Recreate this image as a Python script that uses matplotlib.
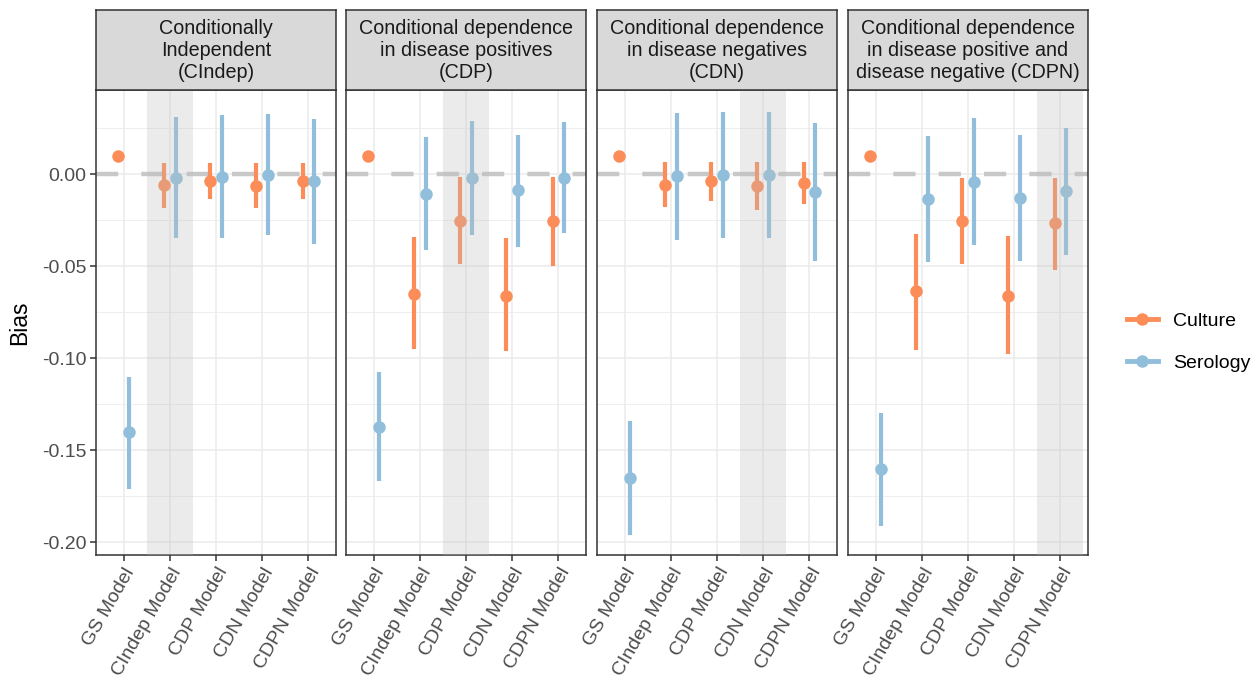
import numpy as np
import matplotlib
matplotlib.use("Agg")
import matplotlib.pyplot as plt
from matplotlib.lines import Line2D

plt.rcParams['font.family'] = ['Liberation Sans', 'DejaVu Sans']

# ---- data ----
models = ["GS Model", "CIndep Model", "CDP Model", "CDN Model", "CDPN Model"]
panel_titles = [
    "Conditionally\nIndependent\n(CIndep)",
    "Conditional dependence\nin disease positives\n(CDP)",
    "Conditional dependence\nin disease negatives\n(CDN)",
    "Conditional dependence\nin disease positive and\ndisease negative (CDPN)",
]
shaded_model = [1, 2, 3, 4]  # index of the highlighted model in each panel

# Culture: estimate, lower, upper  (GS model has no interval)
culture_est = [
    [0.010, -0.006, -0.004, -0.0065, -0.004],
    [0.010, -0.065, -0.0256, -0.066, -0.0256],
    [0.010, -0.006, -0.0036, -0.0065, -0.0047],
    [0.010, -0.0636, -0.0256, -0.066, -0.0268],
]
culture_lo = [
    [np.nan, -0.0185, -0.0136, -0.0183, -0.0136],
    [np.nan, -0.095, -0.049, -0.096, -0.050],
    [np.nan, -0.018, -0.0145, -0.0196, -0.016],
    [np.nan, -0.0957, -0.049, -0.098, -0.052],
]
culture_hi = [
    [np.nan, 0.006, 0.006, 0.006, 0.006],
    [np.nan, -0.034, -0.0015, -0.035, -0.0015],
    [np.nan, 0.0067, 0.0067, 0.0067, 0.0065],
    [np.nan, -0.0325, -0.002, -0.0337, -0.0023],
]
serology_est = [
    [-0.140, -0.002, -0.0016, -0.0005, -0.004],
    [-0.1375, -0.011, -0.002, -0.0087, -0.002],
    [-0.165, -0.001, -0.0005, -0.0005, -0.0096],
    [-0.160, -0.0134, -0.0042, -0.0129, -0.009],
]
serology_lo = [
    [-0.171, -0.035, -0.035, -0.033, -0.038],
    [-0.167, -0.041, -0.033, -0.0395, -0.032],
    [-0.196, -0.036, -0.035, -0.035, -0.047],
    [-0.191, -0.048, -0.0386, -0.047, -0.0437],
]
serology_hi = [
    [-0.110, 0.031, 0.032, 0.0325, 0.030],
    [-0.1075, 0.020, 0.029, 0.0215, 0.0285],
    [-0.134, 0.0333, 0.034, 0.0337, 0.0277],
    [-0.130, 0.0207, 0.0303, 0.0212, 0.025],
]

col_culture = "#FC8D59"
col_serology = "#91BFDB"

W, H = 1255, 678
fig = plt.figure(figsize=(W / 100, H / 100), dpi=100)

lefts = [96, 346, 597, 848]
pw = 240
top, bottom = 90, 555
strip_top = 10
dodge = 0.125
x = np.arange(1, len(models) + 1)

for p in range(4):
    ax = fig.add_axes([lefts[p] / W, 1 - bottom / H, pw / W, (bottom - top) / H])
    ax.set_xlim(0.4, 5.6)
    ax.set_ylim(-0.207, 0.0457)

    # grid like theme_bw
    for yv in np.arange(-0.2, 0.05, 0.025):
        major = abs(yv / 0.05 - round(yv / 0.05)) < 1e-6
        ax.axhline(yv, color="#EBEBEB", lw=1.1 if major else 0.6, zorder=0)
    for xv in x:
        ax.axvline(xv, color="#EBEBEB", lw=1.1, zorder=0)

    ax.axhline(0, color="#C8C8C8", lw=3.2, dashes=(5, 5.2), zorder=1)

    ce, cl, ch = map(np.array, (culture_est[p], culture_lo[p], culture_hi[p]))
    se, sl, sh = map(np.array, (serology_est[p], serology_lo[p], serology_hi[p]))
    ax.vlines(x - dodge, cl, ch, color=col_culture, lw=3.0, zorder=2)
    ax.plot(x - dodge, ce, "o", color=col_culture, ms=9, mec="none", zorder=3)
    ax.vlines(x + dodge, sl, sh, color=col_serology, lw=3.0, zorder=2)
    ax.plot(x + dodge, se, "o", color=col_serology, ms=9, mec="none", zorder=3)

    s = shaded_model[p] + 1
    ax.axvspan(s - 0.5, s + 0.5, color=(190 / 255, 190 / 255, 190 / 255), alpha=0.3, lw=0, zorder=4)

    ax.set_xticks(x)
    ax.set_xticklabels(models, rotation=60, ha="right", rotation_mode="anchor",
                       fontsize=14, color="#4D4D4D")
    ax.tick_params(axis="x", length=4, width=1.1, color="#333333", pad=3)
    ax.set_yticks([0.0, -0.05, -0.10, -0.15, -0.20])
    if p == 0:
        ax.set_yticklabels(["0.00", "-0.05", "-0.10", "-0.15", "-0.20"], fontsize=14, color="#4D4D4D")
        ax.tick_params(axis="y", length=4, width=1.1, color="#333333", pad=3)
        ax.set_ylabel("Bias", fontsize=16.5, labelpad=8)
    else:
        ax.set_yticklabels([])
        ax.tick_params(axis="y", length=0)
    for sp in ax.spines.values():
        sp.set_color("#333333")
        sp.set_linewidth(1.1)

    # strip
    sax = fig.add_axes([lefts[p] / W, 1 - top / H, pw / W, (top - strip_top) / H])
    sax.set_facecolor("#D9D9D9")
    sax.set_xticks([])
    sax.set_yticks([])
    for sp in sax.spines.values():
        sp.set_color("#333333")
        sp.set_linewidth(1.1)
    sax.text(0.5, 0.5, panel_titles[p], ha="center", va="center", fontsize=14.2,
             color="#1A1A1A", linespacing=1.2, transform=sax.transAxes)

handles = [
    Line2D([0], [0], color=col_culture, lw=3.5, marker="o", ms=9, mec="none"),
    Line2D([0], [0], color=col_serology, lw=3.5, marker="o", ms=9, mec="none"),
]
fig.legend(handles, ["Culture", "Serology"], loc="center left",
           bbox_to_anchor=(1119 / W, 1 - 342 / H), frameon=False, fontsize=14,
           handlelength=1.6, labelspacing=1.25, handletextpad=0.8,
           borderpad=0.4, borderaxespad=0.0)

fig.savefig("out.png", dpi=100)
